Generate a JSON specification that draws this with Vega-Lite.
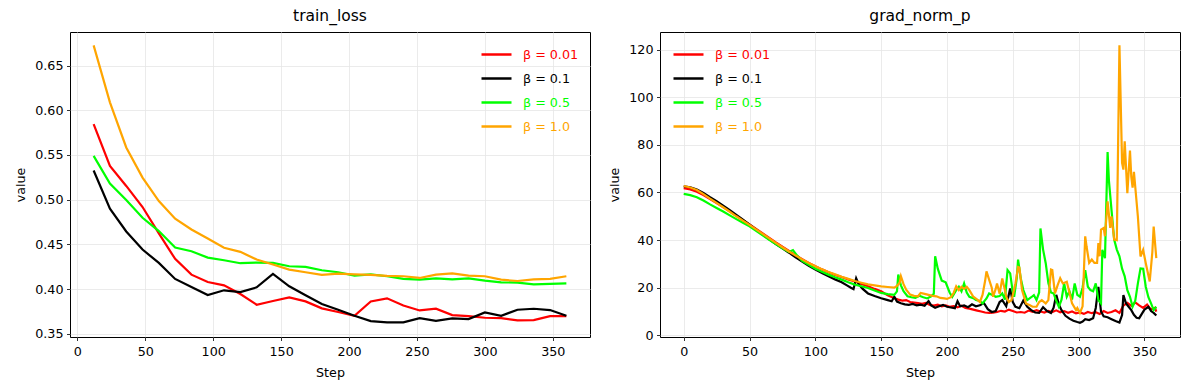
{
"$schema": "https://vega.github.io/schema/vega-lite/v6.json",
"background": "white",
"padding": {"left": 14, "top": 8, "right": 5, "bottom": 5},
"spacing": 70,
"bounds": "flush",
"config": {
  "font": "DejaVu Sans",
  "view": {"stroke": "black", "strokeWidth": 1},
  "axis": {"domain": false, "tickColor": "black", "tickSize": 3.5, "tickWidth": 0.8, "labelFontSize": 12.7, "labelColor": "black", "labelPadding": 3.5, "titleFontSize": 12.7, "titleFontWeight": "normal", "titleColor": "black", "gridColor": "#e6e6e6", "gridWidth": 0.8, "labelFlush": false, "labelOverlap": false},
  "axisY": {"titlePadding": 7},
  "axisX": {"titlePadding": 8, "labelPadding": 5},
  "title": {"fontSize": 15.5, "fontWeight": "normal", "color": "black", "anchor": "middle", "frame": "group", "baseline": "alphabetic", "offset": 8},
  "legend": {"padding": 0, "symbolType": "stroke", "symbolSize": 900, "symbolStrokeWidth": 2.5, "labelFontSize": 12.7, "labelOffset": 10, "rowPadding": -5}
},
"datasets": {
  "loss": [
    {"x":12,"b":"0.01","v":0.5846},{"x":24,"b":"0.01","v":0.5378},{"x":36,"b":"0.01","v":0.5154},{"x":48,"b":"0.01","v":0.4918},{"x":60,"b":"0.01","v":0.4623},{"x":72,"b":"0.01","v":0.4338},{"x":84,"b":"0.01","v":0.4162},{"x":96,"b":"0.01","v":0.4080},{"x":108,"b":"0.01","v":0.4043},{"x":120,"b":"0.01","v":0.3946},{"x":132,"b":"0.01","v":0.3826},{"x":144,"b":"0.01","v":0.3867},{"x":156,"b":"0.01","v":0.3908},{"x":168,"b":"0.01","v":0.3863},{"x":180,"b":"0.01","v":0.3785},{"x":192,"b":"0.01","v":0.3744},{"x":204,"b":"0.01","v":0.3702},{"x":216,"b":"0.01","v":0.3863},{"x":228,"b":"0.01","v":0.3897},{"x":240,"b":"0.01","v":0.3818},{"x":252,"b":"0.01","v":0.3762},{"x":264,"b":"0.01","v":0.3781},{"x":276,"b":"0.01","v":0.3710},{"x":288,"b":"0.01","v":0.3699},{"x":300,"b":"0.01","v":0.3680},{"x":312,"b":"0.01","v":0.3676},{"x":324,"b":"0.01","v":0.3650},{"x":336,"b":"0.01","v":0.3654},{"x":348,"b":"0.01","v":0.3699},{"x":360,"b":"0.01","v":0.3699},
    {"x":12,"b":"0.1","v":0.5326},{"x":24,"b":"0.1","v":0.4899},{"x":36,"b":"0.1","v":0.4645},{"x":48,"b":"0.1","v":0.4443},{"x":60,"b":"0.1","v":0.4293},{"x":72,"b":"0.1","v":0.4114},{"x":84,"b":"0.1","v":0.4024},{"x":96,"b":"0.1","v":0.3934},{"x":108,"b":"0.1","v":0.3987},{"x":120,"b":"0.1","v":0.3968},{"x":132,"b":"0.1","v":0.4020},{"x":144,"b":"0.1","v":0.4170},{"x":156,"b":"0.1","v":0.4032},{"x":168,"b":"0.1","v":0.3931},{"x":180,"b":"0.1","v":0.3833},{"x":192,"b":"0.1","v":0.3770},{"x":204,"b":"0.1","v":0.3702},{"x":216,"b":"0.1","v":0.3643},{"x":228,"b":"0.1","v":0.3628},{"x":240,"b":"0.1","v":0.3628},{"x":252,"b":"0.1","v":0.3676},{"x":264,"b":"0.1","v":0.3646},{"x":276,"b":"0.1","v":0.3673},{"x":288,"b":"0.1","v":0.3665},{"x":300,"b":"0.1","v":0.3740},{"x":312,"b":"0.1","v":0.3702},{"x":324,"b":"0.1","v":0.3770},{"x":336,"b":"0.1","v":0.3781},{"x":348,"b":"0.1","v":0.3766},{"x":360,"b":"0.1","v":0.3702},
    {"x":12,"b":"0.5","v":0.5490},{"x":24,"b":"0.5","v":0.5180},{"x":36,"b":"0.5","v":0.4996},{"x":48,"b":"0.5","v":0.4798},{"x":60,"b":"0.5","v":0.4649},{"x":72,"b":"0.5","v":0.4465},{"x":84,"b":"0.5","v":0.4424},{"x":96,"b":"0.5","v":0.4353},{"x":108,"b":"0.5","v":0.4323},{"x":120,"b":"0.5","v":0.4290},{"x":132,"b":"0.5","v":0.4297},{"x":144,"b":"0.5","v":0.4293},{"x":156,"b":"0.5","v":0.4256},{"x":168,"b":"0.5","v":0.4248},{"x":180,"b":"0.5","v":0.4211},{"x":192,"b":"0.5","v":0.4189},{"x":204,"b":"0.5","v":0.4151},{"x":216,"b":"0.5","v":0.4166},{"x":228,"b":"0.5","v":0.4144},{"x":240,"b":"0.5","v":0.4114},{"x":252,"b":"0.5","v":0.4106},{"x":264,"b":"0.5","v":0.4121},{"x":276,"b":"0.5","v":0.4110},{"x":288,"b":"0.5","v":0.4121},{"x":300,"b":"0.5","v":0.4095},{"x":312,"b":"0.5","v":0.4076},{"x":324,"b":"0.5","v":0.4073},{"x":336,"b":"0.5","v":0.4054},{"x":348,"b":"0.5","v":0.4058},{"x":360,"b":"0.5","v":0.4065},
    {"x":12,"b":"1.0","v":0.6725},{"x":24,"b":"1.0","v":0.6089},{"x":36,"b":"1.0","v":0.5584},{"x":48,"b":"1.0","v":0.5247},{"x":60,"b":"1.0","v":0.4985},{"x":72,"b":"1.0","v":0.4787},{"x":84,"b":"1.0","v":0.4667},{"x":96,"b":"1.0","v":0.4566},{"x":108,"b":"1.0","v":0.4462},{"x":120,"b":"1.0","v":0.4417},{"x":132,"b":"1.0","v":0.4331},{"x":144,"b":"1.0","v":0.4275},{"x":156,"b":"1.0","v":0.4219},{"x":168,"b":"1.0","v":0.4189},{"x":180,"b":"1.0","v":0.4159},{"x":192,"b":"1.0","v":0.4174},{"x":204,"b":"1.0","v":0.4166},{"x":216,"b":"1.0","v":0.4159},{"x":228,"b":"1.0","v":0.4148},{"x":240,"b":"1.0","v":0.4144},{"x":252,"b":"1.0","v":0.4125},{"x":264,"b":"1.0","v":0.4163},{"x":276,"b":"1.0","v":0.4177},{"x":288,"b":"1.0","v":0.4151},{"x":300,"b":"1.0","v":0.4144},{"x":312,"b":"1.0","v":0.4106},{"x":324,"b":"1.0","v":0.4091},{"x":336,"b":"1.0","v":0.4110},{"x":348,"b":"1.0","v":0.4114},{"x":360,"b":"1.0","v":0.4144}
  ],
  "grad": [
    {"x":0,"b":"0.01","v":61.8},{"x":5,"b":"0.01","v":61.3},{"x":10,"b":"0.01","v":60.3},{"x":15,"b":"0.01","v":58.9},{"x":20,"b":"0.01","v":57.2},{"x":25,"b":"0.01","v":55.6},{"x":30,"b":"0.01","v":53.9},{"x":35,"b":"0.01","v":52.1},{"x":40,"b":"0.01","v":50.2},{"x":45,"b":"0.01","v":48.4},{"x":50,"b":"0.01","v":46.6},{"x":55,"b":"0.01","v":44.7},{"x":60,"b":"0.01","v":42.8},{"x":65,"b":"0.01","v":40.9},{"x":70,"b":"0.01","v":39.0},{"x":75,"b":"0.01","v":37.2},{"x":80,"b":"0.01","v":35.5},{"x":85,"b":"0.01","v":33.7},{"x":90,"b":"0.01","v":32.0},{"x":95,"b":"0.01","v":30.4},{"x":100,"b":"0.01","v":29.0},{"x":105,"b":"0.01","v":27.7},{"x":110,"b":"0.01","v":26.5},{"x":115,"b":"0.01","v":25.4},{"x":120,"b":"0.01","v":24.5},{"x":125,"b":"0.01","v":23.5},{"x":130,"b":"0.01","v":22.6},{"x":135,"b":"0.01","v":21.6},{"x":140,"b":"0.01","v":20.6},{"x":145,"b":"0.01","v":19.5},{"x":150,"b":"0.01","v":18.5},{"x":155,"b":"0.01","v":16.8},{"x":160,"b":"0.01","v":15.6},{"x":163,"b":"0.01","v":15.0},{"x":166,"b":"0.01","v":14.6},{"x":169,"b":"0.01","v":14.8},{"x":172,"b":"0.01","v":14.0},{"x":175,"b":"0.01","v":13.8},{"x":178,"b":"0.01","v":13.5},{"x":181,"b":"0.01","v":13.2},{"x":184,"b":"0.01","v":13.6},{"x":187,"b":"0.01","v":12.8},{"x":190,"b":"0.01","v":12.5},{"x":193,"b":"0.01","v":12.9},{"x":196,"b":"0.01","v":12.2},{"x":199,"b":"0.01","v":12.6},{"x":202,"b":"0.01","v":12.0},{"x":205,"b":"0.01","v":12.3},{"x":208,"b":"0.01","v":11.8},{"x":211,"b":"0.01","v":12.4},{"x":214,"b":"0.01","v":11.5},{"x":217,"b":"0.01","v":11.2},{"x":220,"b":"0.01","v":10.8},{"x":223,"b":"0.01","v":10.4},{"x":226,"b":"0.01","v":10.0},{"x":229,"b":"0.01","v":9.6},{"x":232,"b":"0.01","v":9.4},{"x":235,"b":"0.01","v":9.5},{"x":238,"b":"0.01","v":9.8},{"x":241,"b":"0.01","v":10.3},{"x":244,"b":"0.01","v":10.0},{"x":247,"b":"0.01","v":10.8},{"x":250,"b":"0.01","v":10.2},{"x":253,"b":"0.01","v":9.6},{"x":256,"b":"0.01","v":9.8},{"x":259,"b":"0.01","v":9.5},{"x":262,"b":"0.01","v":10.4},{"x":265,"b":"0.01","v":9.9},{"x":268,"b":"0.01","v":10.6},{"x":271,"b":"0.01","v":10.0},{"x":274,"b":"0.01","v":9.6},{"x":277,"b":"0.01","v":10.3},{"x":280,"b":"0.01","v":9.8},{"x":283,"b":"0.01","v":10.5},{"x":286,"b":"0.01","v":9.7},{"x":289,"b":"0.01","v":10.2},{"x":292,"b":"0.01","v":9.5},{"x":295,"b":"0.01","v":10.0},{"x":298,"b":"0.01","v":9.2},{"x":301,"b":"0.01","v":9.6},{"x":304,"b":"0.01","v":9.0},{"x":307,"b":"0.01","v":9.8},{"x":310,"b":"0.01","v":9.3},{"x":313,"b":"0.01","v":9.7},{"x":316,"b":"0.01","v":9.0},{"x":319,"b":"0.01","v":10.2},{"x":322,"b":"0.01","v":9.4},{"x":325,"b":"0.01","v":9.8},{"x":328,"b":"0.01","v":10.5},{"x":331,"b":"0.01","v":9.4},{"x":334,"b":"0.01","v":12.5},{"x":337,"b":"0.01","v":13.6},{"x":340,"b":"0.01","v":12.4},{"x":343,"b":"0.01","v":13.8},{"x":346,"b":"0.01","v":12.6},{"x":349,"b":"0.01","v":11.5},{"x":352,"b":"0.01","v":12.9},{"x":355,"b":"0.01","v":10.8},{"x":358,"b":"0.01","v":11.6},{"x":359,"b":"0.01","v":10.0},
    {"x":0,"b":"0.1","v":62.6},{"x":5,"b":"0.1","v":62.2},{"x":10,"b":"0.1","v":61.2},{"x":15,"b":"0.1","v":59.8},{"x":20,"b":"0.1","v":58.0},{"x":25,"b":"0.1","v":56.3},{"x":30,"b":"0.1","v":54.5},{"x":35,"b":"0.1","v":52.6},{"x":40,"b":"0.1","v":50.6},{"x":45,"b":"0.1","v":48.6},{"x":50,"b":"0.1","v":46.5},{"x":55,"b":"0.1","v":44.4},{"x":60,"b":"0.1","v":42.3},{"x":65,"b":"0.1","v":40.3},{"x":70,"b":"0.1","v":38.3},{"x":75,"b":"0.1","v":36.5},{"x":80,"b":"0.1","v":34.7},{"x":85,"b":"0.1","v":32.8},{"x":90,"b":"0.1","v":31.0},{"x":95,"b":"0.1","v":29.2},{"x":100,"b":"0.1","v":27.6},{"x":105,"b":"0.1","v":26.2},{"x":110,"b":"0.1","v":24.8},{"x":115,"b":"0.1","v":23.5},{"x":120,"b":"0.1","v":22.3},{"x":124,"b":"0.1","v":21.0},{"x":127,"b":"0.1","v":20.0},{"x":129,"b":"0.1","v":19.4},{"x":131,"b":"0.1","v":24.0},{"x":133,"b":"0.1","v":21.4},{"x":136,"b":"0.1","v":19.5},{"x":140,"b":"0.1","v":17.6},{"x":145,"b":"0.1","v":16.5},{"x":150,"b":"0.1","v":15.6},{"x":155,"b":"0.1","v":14.8},{"x":158,"b":"0.1","v":14.3},{"x":160,"b":"0.1","v":16.2},{"x":162,"b":"0.1","v":14.2},{"x":165,"b":"0.1","v":13.5},{"x":168,"b":"0.1","v":13.0},{"x":171,"b":"0.1","v":12.8},{"x":174,"b":"0.1","v":13.2},{"x":177,"b":"0.1","v":12.6},{"x":180,"b":"0.1","v":12.9},{"x":183,"b":"0.1","v":12.4},{"x":186,"b":"0.1","v":14.4},{"x":188,"b":"0.1","v":12.6},{"x":191,"b":"0.1","v":11.6},{"x":194,"b":"0.1","v":12.2},{"x":197,"b":"0.1","v":12.8},{"x":200,"b":"0.1","v":12.0},{"x":203,"b":"0.1","v":11.7},{"x":206,"b":"0.1","v":11.4},{"x":208,"b":"0.1","v":14.3},{"x":210,"b":"0.1","v":12.2},{"x":213,"b":"0.1","v":12.6},{"x":216,"b":"0.1","v":11.8},{"x":219,"b":"0.1","v":13.0},{"x":222,"b":"0.1","v":12.2},{"x":225,"b":"0.1","v":12.6},{"x":228,"b":"0.1","v":13.6},{"x":231,"b":"0.1","v":11.0},{"x":234,"b":"0.1","v":9.8},{"x":237,"b":"0.1","v":10.2},{"x":240,"b":"0.1","v":14.0},{"x":242,"b":"0.1","v":14.8},{"x":245,"b":"0.1","v":12.2},{"x":248,"b":"0.1","v":19.7},{"x":250,"b":"0.1","v":14.0},{"x":252,"b":"0.1","v":12.0},{"x":255,"b":"0.1","v":11.4},{"x":258,"b":"0.1","v":14.6},{"x":261,"b":"0.1","v":12.0},{"x":264,"b":"0.1","v":10.6},{"x":267,"b":"0.1","v":9.6},{"x":270,"b":"0.1","v":9.4},{"x":273,"b":"0.1","v":11.8},{"x":276,"b":"0.1","v":10.2},{"x":279,"b":"0.1","v":9.4},{"x":281,"b":"0.1","v":11.6},{"x":283,"b":"0.1","v":17.0},{"x":285,"b":"0.1","v":13.0},{"x":287,"b":"0.1","v":10.6},{"x":290,"b":"0.1","v":8.2},{"x":293,"b":"0.1","v":7.0},{"x":296,"b":"0.1","v":6.1},{"x":299,"b":"0.1","v":5.6},{"x":301,"b":"0.1","v":5.3},{"x":303,"b":"0.1","v":5.8},{"x":305,"b":"0.1","v":6.8},{"x":308,"b":"0.1","v":6.4},{"x":311,"b":"0.1","v":7.2},{"x":313,"b":"0.1","v":11.5},{"x":315,"b":"0.1","v":20.4},{"x":317,"b":"0.1","v":10.0},{"x":319,"b":"0.1","v":8.0},{"x":322,"b":"0.1","v":7.6},{"x":325,"b":"0.1","v":6.8},{"x":328,"b":"0.1","v":6.0},{"x":331,"b":"0.1","v":5.4},{"x":333,"b":"0.1","v":8.5},{"x":334,"b":"0.1","v":16.9},{"x":336,"b":"0.1","v":13.4},{"x":338,"b":"0.1","v":12.0},{"x":340,"b":"0.1","v":10.6},{"x":342,"b":"0.1","v":8.6},{"x":344,"b":"0.1","v":7.4},{"x":346,"b":"0.1","v":7.2},{"x":348,"b":"0.1","v":9.0},{"x":350,"b":"0.1","v":10.8},{"x":353,"b":"0.1","v":12.0},{"x":355,"b":"0.1","v":10.2},{"x":357,"b":"0.1","v":9.4},{"x":359,"b":"0.1","v":8.3},
    {"x":0,"b":"0.5","v":59.4},{"x":5,"b":"0.5","v":58.9},{"x":10,"b":"0.5","v":58.0},{"x":15,"b":"0.5","v":56.6},{"x":20,"b":"0.5","v":55.0},{"x":25,"b":"0.5","v":53.5},{"x":30,"b":"0.5","v":52.0},{"x":35,"b":"0.5","v":50.4},{"x":40,"b":"0.5","v":48.8},{"x":45,"b":"0.5","v":47.3},{"x":50,"b":"0.5","v":45.8},{"x":55,"b":"0.5","v":43.9},{"x":60,"b":"0.5","v":42.0},{"x":65,"b":"0.5","v":40.1},{"x":70,"b":"0.5","v":38.3},{"x":75,"b":"0.5","v":36.6},{"x":80,"b":"0.5","v":35.0},{"x":83,"b":"0.5","v":35.8},{"x":86,"b":"0.5","v":33.6},{"x":90,"b":"0.5","v":31.3},{"x":95,"b":"0.5","v":29.6},{"x":100,"b":"0.5","v":28.0},{"x":105,"b":"0.5","v":26.7},{"x":110,"b":"0.5","v":25.5},{"x":115,"b":"0.5","v":24.4},{"x":120,"b":"0.5","v":23.4},{"x":125,"b":"0.5","v":22.3},{"x":130,"b":"0.5","v":21.3},{"x":135,"b":"0.5","v":20.6},{"x":140,"b":"0.5","v":19.9},{"x":145,"b":"0.5","v":18.8},{"x":150,"b":"0.5","v":17.8},{"x":155,"b":"0.5","v":17.3},{"x":160,"b":"0.5","v":17.0},{"x":162,"b":"0.5","v":18.5},{"x":163,"b":"0.5","v":25.5},{"x":165,"b":"0.5","v":21.0},{"x":167,"b":"0.5","v":18.5},{"x":170,"b":"0.5","v":16.4},{"x":173,"b":"0.5","v":16.0},{"x":176,"b":"0.5","v":15.7},{"x":179,"b":"0.5","v":16.6},{"x":182,"b":"0.5","v":16.0},{"x":185,"b":"0.5","v":15.5},{"x":188,"b":"0.5","v":16.4},{"x":190,"b":"0.5","v":17.5},{"x":191,"b":"0.5","v":33.2},{"x":193,"b":"0.5","v":28.0},{"x":196,"b":"0.5","v":23.0},{"x":199,"b":"0.5","v":22.3},{"x":202,"b":"0.5","v":18.0},{"x":204,"b":"0.5","v":16.2},{"x":207,"b":"0.5","v":19.0},{"x":209,"b":"0.5","v":20.4},{"x":211,"b":"0.5","v":18.5},{"x":213,"b":"0.5","v":21.8},{"x":215,"b":"0.5","v":18.0},{"x":217,"b":"0.5","v":16.2},{"x":220,"b":"0.5","v":15.6},{"x":222,"b":"0.5","v":14.8},{"x":225,"b":"0.5","v":14.4},{"x":227,"b":"0.5","v":13.4},{"x":230,"b":"0.5","v":15.5},{"x":232,"b":"0.5","v":17.6},{"x":235,"b":"0.5","v":16.8},{"x":237,"b":"0.5","v":16.2},{"x":240,"b":"0.5","v":16.5},{"x":242,"b":"0.5","v":17.6},{"x":244,"b":"0.5","v":15.0},{"x":246,"b":"0.5","v":27.4},{"x":248,"b":"0.5","v":26.0},{"x":250,"b":"0.5","v":18.0},{"x":251,"b":"0.5","v":16.2},{"x":253,"b":"0.5","v":24.0},{"x":254,"b":"0.5","v":31.8},{"x":256,"b":"0.5","v":24.0},{"x":258,"b":"0.5","v":19.0},{"x":261,"b":"0.5","v":14.8},{"x":264,"b":"0.5","v":16.0},{"x":266,"b":"0.5","v":16.9},{"x":268,"b":"0.5","v":14.8},{"x":270,"b":"0.5","v":18.0},{"x":271,"b":"0.5","v":44.9},{"x":273,"b":"0.5","v":36.0},{"x":275,"b":"0.5","v":30.3},{"x":277,"b":"0.5","v":22.0},{"x":279,"b":"0.5","v":18.0},{"x":281,"b":"0.5","v":17.6},{"x":283,"b":"0.5","v":14.5},{"x":285,"b":"0.5","v":12.0},{"x":287,"b":"0.5","v":15.0},{"x":289,"b":"0.5","v":21.8},{"x":291,"b":"0.5","v":16.2},{"x":293,"b":"0.5","v":18.6},{"x":295,"b":"0.5","v":15.0},{"x":297,"b":"0.5","v":21.8},{"x":299,"b":"0.5","v":17.0},{"x":301,"b":"0.5","v":16.2},{"x":303,"b":"0.5","v":20.0},{"x":305,"b":"0.5","v":27.4},{"x":307,"b":"0.5","v":20.4},{"x":309,"b":"0.5","v":19.0},{"x":311,"b":"0.5","v":18.5},{"x":313,"b":"0.5","v":21.8},{"x":315,"b":"0.5","v":14.8},{"x":317,"b":"0.5","v":13.4},{"x":318,"b":"0.5","v":35.9},{"x":320,"b":"0.5","v":32.4},{"x":322,"b":"0.5","v":77.0},{"x":323,"b":"0.5","v":65.0},{"x":325,"b":"0.5","v":52.5},{"x":327,"b":"0.5","v":40.2},{"x":329,"b":"0.5","v":36.0},{"x":331,"b":"0.5","v":33.2},{"x":333,"b":"0.5","v":28.0},{"x":335,"b":"0.5","v":24.8},{"x":337,"b":"0.5","v":19.0},{"x":339,"b":"0.5","v":16.2},{"x":341,"b":"0.5","v":12.0},{"x":343,"b":"0.5","v":14.5},{"x":345,"b":"0.5","v":21.8},{"x":347,"b":"0.5","v":28.1},{"x":349,"b":"0.5","v":28.0},{"x":351,"b":"0.5","v":20.4},{"x":353,"b":"0.5","v":16.0},{"x":355,"b":"0.5","v":13.4},{"x":357,"b":"0.5","v":10.6},{"x":359,"b":"0.5","v":12.0},
    {"x":0,"b":"1.0","v":62.7},{"x":5,"b":"1.0","v":62.1},{"x":10,"b":"1.0","v":61.0},{"x":15,"b":"1.0","v":59.3},{"x":20,"b":"1.0","v":57.4},{"x":25,"b":"1.0","v":55.6},{"x":30,"b":"1.0","v":53.8},{"x":35,"b":"1.0","v":51.9},{"x":40,"b":"1.0","v":50.0},{"x":45,"b":"1.0","v":48.2},{"x":50,"b":"1.0","v":46.4},{"x":55,"b":"1.0","v":44.5},{"x":60,"b":"1.0","v":42.6},{"x":65,"b":"1.0","v":40.7},{"x":70,"b":"1.0","v":38.8},{"x":75,"b":"1.0","v":37.0},{"x":80,"b":"1.0","v":35.2},{"x":85,"b":"1.0","v":33.5},{"x":90,"b":"1.0","v":31.9},{"x":95,"b":"1.0","v":30.4},{"x":100,"b":"1.0","v":29.0},{"x":105,"b":"1.0","v":27.8},{"x":110,"b":"1.0","v":26.6},{"x":115,"b":"1.0","v":25.6},{"x":120,"b":"1.0","v":24.6},{"x":125,"b":"1.0","v":23.7},{"x":130,"b":"1.0","v":22.8},{"x":135,"b":"1.0","v":22.1},{"x":140,"b":"1.0","v":21.4},{"x":145,"b":"1.0","v":21.0},{"x":150,"b":"1.0","v":20.6},{"x":155,"b":"1.0","v":20.3},{"x":160,"b":"1.0","v":20.0},{"x":162,"b":"1.0","v":20.8},{"x":164,"b":"1.0","v":22.0},{"x":165,"b":"1.0","v":24.8},{"x":167,"b":"1.0","v":21.5},{"x":169,"b":"1.0","v":19.2},{"x":172,"b":"1.0","v":17.1},{"x":175,"b":"1.0","v":16.6},{"x":178,"b":"1.0","v":16.4},{"x":180,"b":"1.0","v":17.8},{"x":183,"b":"1.0","v":17.4},{"x":186,"b":"1.0","v":17.0},{"x":189,"b":"1.0","v":16.6},{"x":192,"b":"1.0","v":16.4},{"x":195,"b":"1.0","v":15.7},{"x":198,"b":"1.0","v":15.5},{"x":200,"b":"1.0","v":15.3},{"x":203,"b":"1.0","v":16.0},{"x":205,"b":"1.0","v":17.8},{"x":207,"b":"1.0","v":20.6},{"x":209,"b":"1.0","v":19.0},{"x":211,"b":"1.0","v":20.4},{"x":213,"b":"1.0","v":19.5},{"x":215,"b":"1.0","v":20.4},{"x":217,"b":"1.0","v":19.0},{"x":220,"b":"1.0","v":16.2},{"x":223,"b":"1.0","v":15.0},{"x":225,"b":"1.0","v":14.0},{"x":227,"b":"1.0","v":17.0},{"x":229,"b":"1.0","v":23.0},{"x":230,"b":"1.0","v":26.9},{"x":232,"b":"1.0","v":23.4},{"x":234,"b":"1.0","v":20.0},{"x":235,"b":"1.0","v":16.2},{"x":237,"b":"1.0","v":19.5},{"x":238,"b":"1.0","v":21.8},{"x":240,"b":"1.0","v":17.5},{"x":242,"b":"1.0","v":23.9},{"x":244,"b":"1.0","v":19.0},{"x":245,"b":"1.0","v":16.2},{"x":247,"b":"1.0","v":14.0},{"x":249,"b":"1.0","v":14.8},{"x":250,"b":"1.0","v":17.0},{"x":252,"b":"1.0","v":21.8},{"x":254,"b":"1.0","v":28.7},{"x":255,"b":"1.0","v":28.5},{"x":257,"b":"1.0","v":19.0},{"x":260,"b":"1.0","v":13.4},{"x":263,"b":"1.0","v":12.6},{"x":265,"b":"1.0","v":12.0},{"x":268,"b":"1.0","v":12.0},{"x":270,"b":"1.0","v":14.0},{"x":272,"b":"1.0","v":14.8},{"x":275,"b":"1.0","v":13.4},{"x":277,"b":"1.0","v":14.8},{"x":279,"b":"1.0","v":27.6},{"x":280,"b":"1.0","v":27.4},{"x":282,"b":"1.0","v":17.6},{"x":284,"b":"1.0","v":21.0},{"x":286,"b":"1.0","v":24.0},{"x":288,"b":"1.0","v":21.8},{"x":291,"b":"1.0","v":22.5},{"x":293,"b":"1.0","v":18.0},{"x":295,"b":"1.0","v":13.4},{"x":298,"b":"1.0","v":10.6},{"x":299,"b":"1.0","v":11.5},{"x":301,"b":"1.0","v":9.4},{"x":303,"b":"1.0","v":12.2},{"x":305,"b":"1.0","v":41.6},{"x":306,"b":"1.0","v":37.4},{"x":308,"b":"1.0","v":30.4},{"x":310,"b":"1.0","v":31.8},{"x":312,"b":"1.0","v":30.4},{"x":314,"b":"1.0","v":30.4},{"x":315,"b":"1.0","v":38.7},{"x":316,"b":"1.0","v":33.2},{"x":317,"b":"1.0","v":44.4},{"x":319,"b":"1.0","v":45.1},{"x":320,"b":"1.0","v":41.6},{"x":322,"b":"1.0","v":56.3},{"x":324,"b":"1.0","v":45.1},{"x":325,"b":"1.0","v":50.0},{"x":327,"b":"1.0","v":40.2},{"x":329,"b":"1.0","v":40.0},{"x":331,"b":"1.0","v":121.8},{"x":333,"b":"1.0","v":72.4},{"x":334,"b":"1.0","v":69.6},{"x":335,"b":"1.0","v":81.5},{"x":337,"b":"1.0","v":59.7},{"x":339,"b":"1.0","v":77.6},{"x":340,"b":"1.0","v":66.6},{"x":341,"b":"1.0","v":62.0},{"x":342,"b":"1.0","v":68.7},{"x":345,"b":"1.0","v":49.9},{"x":347,"b":"1.0","v":33.1},{"x":349,"b":"1.0","v":35.9},{"x":351,"b":"1.0","v":30.3},{"x":354,"b":"1.0","v":22.6},{"x":356,"b":"1.0","v":35.0},{"x":357,"b":"1.0","v":45.7},{"x":359,"b":"1.0","v":32.4}
  ]
},
"hconcat": [
  {
    "width": 520, "height": 305,
    "title": "train_loss",
    "data": {"name": "loss"},
    "mark": {"type": "line", "strokeWidth": 2.2},
    "encoding": {
      "x": {"field": "x", "type": "quantitative", "scale": {"domain": [-5.4, 377.4], "nice": false, "zero": false}, "axis": {"title": "Step", "values": [0,50,100,150,200,250,300,350]}},
      "y": {"field": "v", "type": "quantitative", "scale": {"domain": [0.3465, 0.6875], "nice": false, "zero": false}, "axis": {"title": "value", "values": [0.35,0.40,0.45,0.50,0.55,0.60,0.65], "format": ".2f"}},
      "color": {"field": "b", "type": "nominal", "scale": {"domain": ["0.01","0.1","0.5","1.0"], "range": ["#ff0000","#000000","#00ff00","#ffa500"]},
        "legend": {"title": null, "orient": "none", "legendX": 410, "legendY": 6, "labelExpr": "'β = ' + datum.label",
          "encode": {"labels": {"update": {"fill": {"signal": "datum.value === '0.01' ? '#ff0000' : datum.value === '0.1' ? '#000000' : datum.value === '0.5' ? '#00ff00' : '#ffa500'"}}}}}}
    }
  },
  {
    "width": 520, "height": 305,
    "title": "grad_norm_p",
    "data": {"name": "grad"},
    "mark": {"type": "line", "strokeWidth": 2.2},
    "encoding": {
      "x": {"field": "x", "type": "quantitative", "scale": {"domain": [-18, 377], "nice": false, "zero": false}, "axis": {"title": "Step", "values": [0,50,100,150,200,250,300,350]}},
      "y": {"field": "v", "type": "quantitative", "scale": {"domain": [-0.7, 127.4], "nice": false, "zero": false}, "axis": {"title": "value", "values": [0,20,40,60,80,100,120]}},
      "color": {"field": "b", "type": "nominal", "scale": {"domain": ["0.01","0.1","0.5","1.0"], "range": ["#ff0000","#000000","#00ff00","#ffa500"]},
        "legend": {"title": null, "orient": "none", "legendX": 12, "legendY": 6, "labelExpr": "'β = ' + datum.label",
          "encode": {"labels": {"update": {"fill": {"signal": "datum.value === '0.01' ? '#ff0000' : datum.value === '0.1' ? '#000000' : datum.value === '0.5' ? '#00ff00' : '#ffa500'"}}}}}}
    }
  }
],
"resolve": {"scale": {"color": "independent"}, "legend": {"color": "independent"}}
}
